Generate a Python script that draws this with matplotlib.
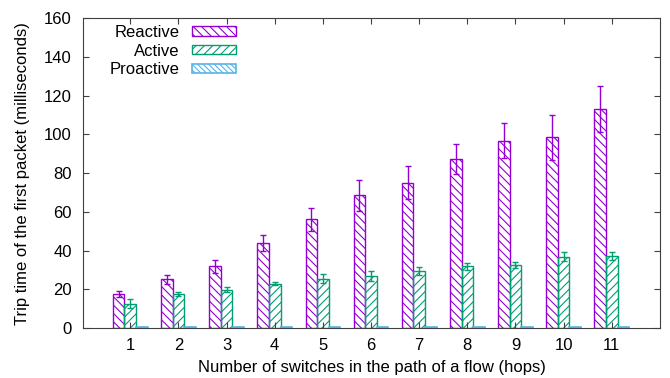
import numpy as np
import matplotlib
matplotlib.use('Agg')
import matplotlib.pyplot as plt

plt.rcParams['font.family'] = ['Liberation Sans', 'DejaVu Sans']
plt.rcParams['hatch.linewidth'] = 0.8

hops = [1, 2, 3, 4, 5, 6, 7, 8, 9, 10, 11]
reactive = [17.8, 25.2, 31.9, 44.0, 56.1, 68.5, 75.0, 87.1, 96.8, 98.5, 113.0]
reactive_err = [1.5, 2.3, 3.5, 4.3, 5.9, 8.2, 8.6, 7.8, 9.0, 11.5, 12.0]
active = [12.6, 17.8, 19.9, 23.0, 25.5, 27.1, 29.5, 31.8, 32.6, 36.9, 37.4]
active_err = [2.3, 1.0, 1.5, 0.7, 2.2, 2.6, 2.0, 1.9, 1.5, 2.5, 2.0]
proactive = [0.5, 0.5, 0.5, 0.5, 0.5, 0.5, 0.5, 0.5, 0.5, 0.5, 0.5]

x = np.array(hops)
w = 0.24

fig = plt.figure(figsize=(6.7, 3.78), dpi=100)
ax = fig.add_axes([0.124, 0.132, 0.861, 0.82])

purple = '#9400d3'
green = '#009e73'
blue = '#56b4e9'

ax.bar(x - w, reactive, w, color='none', edgecolor=purple, hatch='\\\\\\\\', lw=1.0,
       label='Reactive')
ax.errorbar(x - w, reactive, yerr=reactive_err, fmt='none', ecolor=purple,
            elinewidth=1.0, capsize=2.5, capthick=1.0)
ax.bar(x, active, w, color='none', edgecolor=green, hatch='////', lw=1.0,
       label='Active')
ax.errorbar(x, active, yerr=active_err, fmt='none', ecolor=green,
            elinewidth=1.0, capsize=2.5, capthick=1.0)
ax.bar(x + w, proactive, w, color='none', edgecolor=blue, hatch='\\\\\\\\\\\\', lw=1.2,
       label='Proactive')

ax.set_xlim(0.02, 12.0)
ax.set_ylim(0, 160)
ax.set_xticks(hops)
ax.set_yticks(range(0, 161, 20))
ax.tick_params(direction='in', top=True, right=True, labelsize=12, length=4,
               color='#404040')
ax.tick_params(axis='x', pad=7)
ax.tick_params(axis='y', pad=8)
for s in ax.spines.values():
    s.set_color('#404040')

ax.set_xlabel('Number of switches in the path of a flow (hops)', fontsize=12, labelpad=5)
ax.set_ylabel('Trip time of the first packet (milliseconds)', fontsize=12, labelpad=10)

ax.legend(loc='upper left', bbox_to_anchor=(0.035, 1.0), frameon=False, markerfirst=False,
          fontsize=12, handlelength=2.64, handleheight=0.5, labelspacing=0.23,
          handletextpad=0.72, borderaxespad=0.0, borderpad=0.4)

fig.savefig('out.png', dpi=100)
